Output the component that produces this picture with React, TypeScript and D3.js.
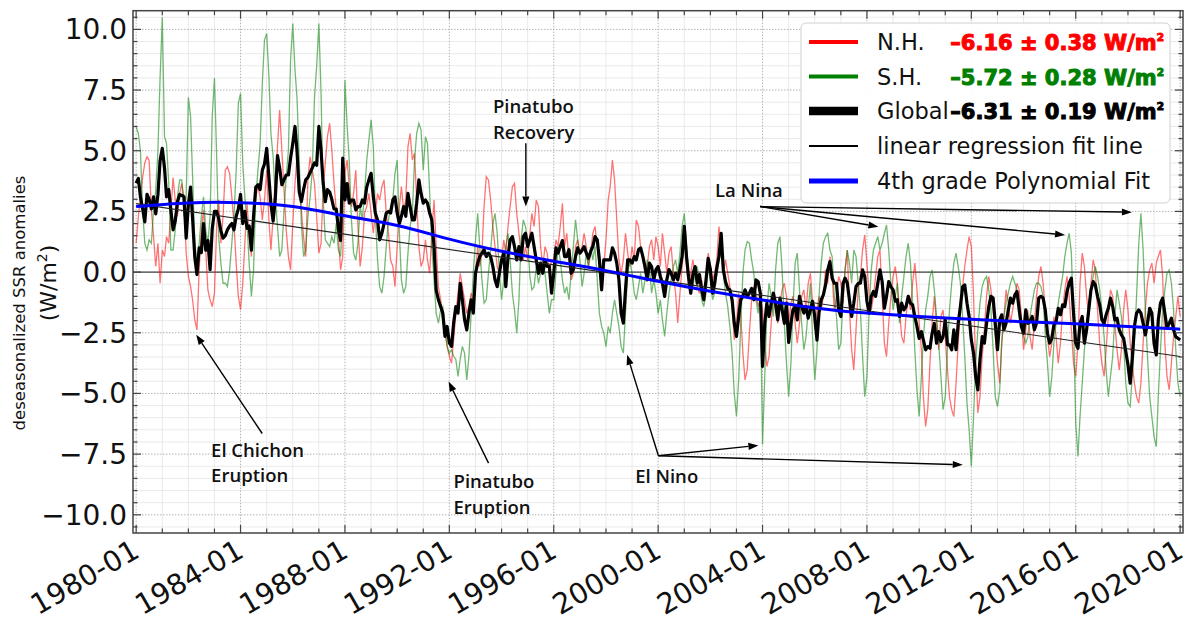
import { useEffect, useRef } from 'react';
import * as d3 from 'd3';

// monthly anomalies, 1980-01 .. 2020-01 (W/m2)
const NH = [
  1.19, 2.29, 3.1, 3.9, 4.5, 4.75, 4.6, 2.56, 1.46, 0.23, 1.19, -0.46,
  0.91, 0.64, 1.46, 1.19, 2.56, 3.9, 2.97, 2.29, 3.24, 3.65, 3.1, 0.78,
  -0.18, -0.6, -1.15, -1.97, -2.38, 0.09, 1.74, 2.56, 0.91, -0.73, -1.15, -1.42,
  -0.87, 1.88, 2.97, 1.19, 2.29, 4.2, 4.34, 4.07, 3.1, 2.0, 0.36, -1.0,
  -1.55, -0.46, 1.19, 2.83, 1.46, 0.64, 2.29, 3.1, 3.52, 3.1, 2.15, 2.97,
  4.2, 2.15, 0.91, 2.29, 3.9, 5.17, 6.68, 5.03, 3.38, 1.74, 0.64, 0.09,
  2.0, 3.65, 4.75, 3.65, 2.56, 1.46, 0.64, 3.9, 4.75, 4.2, 3.65, 2.29,
  0.78, 1.19, 3.38, 4.48, 5.58, 6.13, 5.03, 3.65, 2.56, 1.46, 0.09, 0.64,
  4.07, 4.62, 3.52, 2.7, 3.24, 4.2, 1.88, 0.23, 1.05, 2.42, 2.7, 3.24,
  2.42, 1.6, 2.42, 3.24, 2.97, 3.52, 3.8, 2.42, 1.6, 0.5, 0.23, -0.6,
  1.05, 2.7, 3.52, 2.56, 2.97, 5.17, 5.72, 4.62, 4.9, 2.97, 1.05, 0.23,
  0.5, 1.33, 0.5, -0.05, 1.6, 2.97, 1.05, -0.6, -1.14, -1.97, -2.52, -3.06,
  -3.47, -3.75, -2.79, -1.7, -0.87, -0.05, -0.6, -1.14, -1.7, -1.42, -0.87, -1.14,
  -0.05, 1.05, 0.23, 0.78, 2.7, 3.93, 3.8, 2.97, 1.88, 1.05, 0.23, -0.05,
  0.5, 1.33, 0.78, 1.88, 2.7, 3.52, 3.66, 2.42, 1.6, 0.78, 0.5, 1.05,
  0.5, 1.6, 2.42, 1.88, 2.97, 2.7, 1.05, 0.23, 1.05, 0.78, -0.05, 0.5,
  0.5, 1.33, 1.05, 1.88, 2.83, 1.05, 1.6, 0.5, -0.32, -0.05, 1.05, 1.33,
  0.78, 1.05, 1.6, 1.05, 0.23, 0.78, 1.6, 1.88, 1.05, 0.23, -0.6, 0.23,
  1.33, 2.97, 3.52, 4.62, 3.8, 2.15, 0.5, -0.05, 0.5, 1.6, 0.78, 0.23,
  1.05, 0.5, 2.15, 1.88, 1.05, 0.5, -0.05, 0.23, 1.05, 1.33, 0.5, 1.46,
  1.05, 0.23, 1.6, 0.78, -0.05, 0.78, 1.05, -0.05, -0.87, -2.1, -0.87, 0.23,
  1.33, 0.23, -0.6, -0.05, 0.5, -0.05, -0.6, -0.87, -0.32, -1.14, -0.18, 0.78,
  0.23, -0.32, -0.05, 0.5, 1.88, 1.05, -0.05, 0.5, -0.05, -0.6, -1.42, -2.79,
  -2.24, -0.87, -1.7, -3.34, -4.44, -4.03, -2.52, -1.14, -0.6, -0.87, -1.42, -1.14,
  -1.56, -2.93, -3.89, -3.48, -2.11, -1.0, -1.56, -2.11, -1.28, -0.73, -0.46, -1.0,
  -2.11, -1.28, -1.0, -2.11, -2.93, -2.11, -1.0, -0.73, -1.56, -0.46, -0.05, -1.28,
  -2.38, -1.56, -1.0, -1.56, -1.0, 0.09, -0.46, 0.64, -0.18, -1.56, -1.0, -0.18,
  -0.46, -1.28, 0.09, 0.91, -1.56, -3.2, -4.03, -2.38, -0.73, -0.18, 0.91, 1.53,
  0.37, -1.0, -1.56, -1.0, -0.18, 0.64, 0.91, -1.0, -2.93, -3.48, -2.11, -1.0,
  -0.18, 0.23, -0.46, -1.56, -2.66, -2.93, -1.83, -1.0, -1.56, -0.46, 0.37, -0.73,
  -2.11, -3.2, -5.13, -6.36, -5.67, -3.75, -2.11, -1.0, -2.11, -3.2, -1.83, -1.56,
  -2.66, -4.03, -5.13, -5.67, -5.95, -4.58, -2.93, -1.56, -0.6, 0.23, 0.91, 1.46,
  1.05, -1.0, -3.75, -5.8, -5.13, -3.48, -2.38, -1.0, -0.18, -0.73, -1.56, -2.66,
  -3.75, -4.58, -2.93, -1.83, -0.73, -1.28, -2.11, -1.56, -1.0, -0.46, -0.73, -1.83,
  -3.2, -2.38, -1.56, -2.66, -3.2, -2.11, -1.0, -0.18, 0.23, -0.46, -1.56, -2.66,
  -3.48, -2.93, -1.83, -2.66, -3.75, -2.93, -1.56, -0.73, -0.18, -1.0, -2.38, -3.75,
  -4.3, -2.93, -0.46, 0.78, 0.23, -1.0, -1.83, -0.46, 0.5, 0.09, -1.56, -2.93,
  -3.75, -4.3, -3.2, -1.83, -0.73, -1.0, -2.11, -3.2, -4.03, -3.2, -1.56, -0.73,
  -1.56, -2.93, -3.75, -4.58, -5.13, -5.4, -4.58, -2.93, -1.56, -0.46, 0.09, 0.37,
  -0.46, 0.37, 0.64, 0.91, -0.18, -2.93, -4.3, -4.85, -3.75, -2.66, -1.83, -1.0,
  -1.83,
];

const SH = [
  6.0, 5.7, 5.0, 2.56, 1.19, 0.91, 1.33, 1.19, 2.56, 3.38, 5.0, 8.0,
  10.5, 5.58, 5.3, 3.65, 0.91, 0.91, 1.74, 3.1, 3.8, 3.8, 2.29, 3.1,
  7.2, 6.4, 3.9, 1.19, 0.36, 1.19, 2.29, 3.1, 1.74, 1.19, 2.29, 6.4,
  8.0, 4.75, 1.46, 0.36, -0.46, -0.46, -0.6, 0.09, 1.19, 2.29, 4.2, 6.95,
  7.36, 4.48, 3.1, 2.0, 0.36, -1.0, 0.09, 3.1, 4.2, 5.3, 7.78, 9.56,
  9.83, 8.05, 5.72, 4.75, 3.1, 1.88, 0.64, 0.91, 2.56, 3.93, 5.03, 8.73,
  10.24, 8.32, 7.2, 4.62, 2.0, 0.64, 0.91, 2.29, 3.1, 4.2, 7.2, 8.46,
  10.24, 7.36, 3.1, 1.33, 1.19, 1.05, 1.46, 1.19, 2.0, 0.91, 0.64, 2.29,
  7.9, 6.0, 4.6, 2.15, 0.78, 0.5, 1.19, 2.7, 2.15, 3.24, 4.6, 5.44,
  6.27, 5.17, 2.42, 0.5, -0.6, -0.87, -0.18, 1.05, 2.15, 2.7, 2.97, 4.07,
  4.62, 1.6, -0.32, -0.87, -0.6, 0.78, 1.88, 2.42, 4.62, 5.72, 6.13, 5.85,
  4.2, 5.58, 5.3, 3.24, 1.05, -0.32, -1.7, -2.1, -1.56, -1.42, -2.24, -3.06,
  -3.34, -3.2, -3.47, -3.6, -4.3, -3.6, -3.06, -3.34, -4.44, -3.47, -1.7, -0.05,
  1.33, 2.42, 1.05, -0.32, -1.28, -1.14, -0.05, 0.91, 2.0, 2.42, 1.6, -0.05,
  -1.14, -0.32, 1.05, 1.6, 0.5, -0.87, -1.56, -2.52, -1.14, 1.33, 2.15, 1.88,
  1.33, -0.18, -0.73, -0.6, 0.23, -0.46, -0.05, 0.5, -0.05, -0.87, -1.7, -1.14,
  -1.14, -0.05, 1.05, 0.5, -0.32, -0.87, -0.6, -1.14, -0.05, 1.05, 2.15, 1.33,
  0.5, -0.6, -0.05, 0.78, 0.23, 1.05, 0.5, 1.05, -0.32, -1.7, -2.24, -2.52,
  -3.07, -2.24, -2.52, -1.7, -1.14, -1.7, -2.24, -3.07, -3.34, -1.7, -0.05, 0.5,
  -0.05, -0.87, -1.14, -0.6, -0.05, -0.87, -0.32, 0.5, 0.23, -0.87, -0.32, -0.87,
  -1.7, -1.14, -1.97, -2.65, -1.7, -0.87, -0.32, 0.23, 0.5, -0.05, 0.78, 1.88,
  2.42, 1.05, -0.05, -0.87, -0.6, -0.05, 0.23, -0.32, -1.14, -1.42, -0.87, 0.23,
  -0.32, -1.14, -0.87, -0.05, 0.5, 0.78, -0.05, -0.87, -1.42, -2.24, -3.34, -4.99,
  -5.95, -4.44, -2.24, -0.05, 0.91, 1.26, 1.19, 0.5, -0.05, -1.14, -1.7, -0.87,
  -7.1, -4.3, -1.56, -0.46, -1.0, -1.83, 0.09, 1.19, 1.46, 0.09, -2.11, -3.75,
  -5.13, -3.75, -1.56, 0.37, 0.78, -0.73, -2.11, -3.2, -2.66, -1.56, -0.46, -2.66,
  -4.44, -3.2, -1.0, 0.37, 1.19, 1.46, 1.6, 0.91, 0.64, -1.0, -1.83, -3.2,
  -2.93, -1.0, 0.09, 0.91, 0.37, -0.46, 0.91, 0.64, -0.46, -1.56, -3.48, -5.13,
  -4.3, -1.56, 0.09, 0.91, 1.19, 1.46, 0.91, 1.19, 1.6, 1.94, 0.91, -0.46,
  -1.56, -1.0, -0.46, -2.11, -1.0, -0.18, 0.64, 1.19, 0.37, -1.28, -3.2, -4.85,
  -5.95, -4.3, -2.66, -1.56, -1.0, -0.18, 0.09, -0.73, -1.83, -2.93, -4.3, -5.67,
  -5.13, -3.2, -1.56, -0.46, 0.37, 0.78, 0.23, -0.46, -1.83, -3.48, -5.4, -6.5,
  -8.0, -5.95, -3.75, -2.38, -1.28, -0.6, -0.32, -0.18, -0.73, -1.56, -3.2, -5.13,
  -5.54, -4.85, -2.93, -1.83, -1.28, -0.87, -0.46, -0.18, -0.46, -0.73, -1.28, -2.11,
  -2.66, -2.93, -2.66, -1.83, -1.28, -0.73, -0.46, -0.46, -0.6, -1.0, -2.66, -3.75,
  -5.13, -4.3, -2.93, -2.11, -1.28, -0.73, -0.18, 0.64, 1.19, 1.6, 0.78, -2.11,
  -6.23, -7.6, -5.95, -4.58, -3.2, -2.11, -1.28, -0.73, -0.18, 0.23, -0.18, -0.73,
  -1.56, -2.66, -4.03, -5.13, -4.3, -3.48, -1.83, -0.73, -1.28, -1.83, -2.93, -4.58,
  -5.4, -5.54, -4.3, -2.93, -1.0, 1.19, 2.42, 0.91, -1.56, -3.48, -5.13, -5.95,
  -6.77, -7.2, -5.13, -3.2, -1.56, -0.73, -0.05, 0.09, -0.46, -1.56, -3.2, -4.58,
  -5.13,
];

const GLOBAL = [
  3.66, 3.86, 3.1, 2.6, 2.07, 3.2, 3.0, 2.6, 3.1, 2.4, 3.2, 4.6,
  5.1, 4.3, 3.1, 3.4, 2.56, 1.74, 2.1, 2.9, 3.2, 3.16, 3.1, 1.4,
  2.8, 3.5, 2.2, 0.6, -0.1, 1.0, 0.8, 2.0, 0.9, 1.3, 0.1, 1.8,
  2.5, 2.5, 2.2, 1.7, 1.4, 1.5, 1.74, 1.9, 2.0, 1.74, 2.3, 2.6,
  3.2, 2.0, 2.5, 1.8, 1.9, 0.9, 2.3, 3.5, 3.6, 3.4, 4.2, 4.45,
  5.1, 3.9, 2.8, 2.1, 3.0, 4.8, 4.3, 3.6, 3.8, 4.0, 4.0, 4.7,
  5.3, 6.0, 5.0, 3.3, 2.9, 3.4, 3.8, 3.9, 4.1, 4.3, 4.5, 4.4,
  6.0, 5.0, 3.7, 2.9, 3.4, 3.3, 3.0, 2.6, 2.6, 1.8, 1.3, 4.7,
  2.97, 3.65, 2.84, 2.97, 2.97, 2.56, 2.7, 2.7, 2.97, 2.84, 3.5, 3.8,
  4.07, 3.11, 2.43, 2.15, 1.33, 1.6, 2.0, 2.43, 2.5, 2.43, 2.97, 3.1,
  2.43, 2.0, 2.3, 2.7, 2.3, 3.24, 2.7, 2.15, 2.15, 2.84, 3.8, 3.24,
  2.84, 2.97, 2.84, 2.43, 2.15, 1.05, -0.74, -1.14, -1.42, -1.69, -2.65, -2.24,
  -2.92, -3.06, -2.1, -1.42, -1.69, -0.46, -1.14, -1.96, -2.38, -1.69, -1.14, -1.69,
  -0.05, 0.37, 0.64, 0.78, 0.92, 0.64, 0.78, 0.64, 0.23, -0.32, -0.6, -0.05,
  0.5, 0.78, -0.6, 0.64, 1.33, 1.46, 1.05, 0.5, 1.05, 0.5, 1.46, 1.6,
  1.05, 1.33, 1.6, 1.05, 0.5, -0.05, 0.37, -0.05, 0.5, 0.23, 0.23, -0.87,
  -0.05, 1.0, 0.78, 1.05, 1.3, 0.64, 0.64, 0.92, -0.05, 0.1, 0.64, 1.0,
  0.78, 0.9, 1.05, 0.78, 0.57, 0.85, 1.05, 1.46, 1.33, 0.5, -0.73, 0.5,
  0.5, 0.5, 0.5, 1.0, 0.78, 0.37, -0.32, -1.69, -2.1, -0.73, 0.5, 0.5,
  0.37, 0.64, 0.5, 0.92, 1.0, 0.64, 0.23, -0.32, 0.37, 0.23, -0.32, 0.1,
  0.23, -0.18, -0.46, -1.0, -0.32, 0.1, -0.05, -0.32, -0.05, -0.32, 0.1, 0.64,
  1.88, 0.64, -0.18, -0.87, -0.1, 0.23, -0.46, -0.1, -0.73, -1.14, -0.32, 0.57,
  0.1, -0.87, -0.46, 0.17, 0.64, 1.6, 0.1, -0.4, -0.67, -0.73, -1.14, -2.1,
  -2.65, -1.83, -1.14, -1.0, -0.73, -1.0, -0.87, -0.67, -1.14, -0.32, -0.4, -0.87,
  -3.89, -2.11, -1.28, -1.83, -1.28, -0.87, -1.28, -1.97, -1.07, -1.56, -2.11, -1.28,
  -2.9, -2.11, -1.56, -1.42, -1.97, -1.0, -1.42, -1.69, -1.42, -1.9, -1.56, -1.2,
  -1.83, -2.8, -1.69, -1.14, -0.94, -0.53, 0.09, 0.43, -0.25, -0.46, -0.46, -1.56,
  -1.83, -0.46, -0.25, -0.46, -1.14, -1.83, -1.28, -0.6, -0.46, -0.46, 0.09, -0.18,
  -1.2, -1.69, -1.0, -0.8, -1.0, -0.46, 0.09, -0.39, -1.49, -1.0, -0.39, -0.6,
  -0.73, -1.2, -1.14, -1.83, -1.28, -1.56, -1.42, -1.0, -1.28, -1.35, -1.83, -2.24,
  -2.73, -2.45, -2.8, -3.2, -3.07, -3.14, -2.52, -2.11, -2.93, -2.45, -2.87, -2.66,
  -1.97, -3.0, -3.0, -3.2, -2.38, -3.2, -2.11, -1.42, -0.6, -0.53, -1.28, -1.83,
  -2.8, -3.34, -4.3, -4.85, -3.6, -2.66, -2.93, -2.11, -1.42, -1.0, -1.07, -2.11,
  -3.2, -1.97, -1.76, -2.38, -2.11, -1.56, -1.07, -1.28, -0.94, -0.8, -1.56, -2.24,
  -2.52, -1.56, -2.11, -2.04, -1.83, -2.38, -2.11, -1.07, -1.0, -1.07, -1.56, -2.52,
  -2.93, -2.73, -2.18, -2.04, -1.49, -1.76, -1.35, -1.42, -0.8, -0.46, -0.25, -1.69,
  -2.93, -3.14, -2.11, -1.83, -2.93, -2.38, -1.56, -0.73, -0.39, -0.53, -1.0, -1.35,
  -1.97, -2.11, -1.76, -1.49, -1.07, -1.42, -1.97, -1.9, -2.38, -2.59, -2.73, -3.27,
  -3.82, -4.58, -3.6, -2.24, -1.69, -1.56, -1.69, -2.11, -2.59, -2.11, -1.49, -1.69,
  -2.93, -3.41, -1.97, -1.28, -1.07, -1.69, -2.31, -2.11, -1.9, -2.38, -2.66, -2.73,
  -2.8,
];

// fits
const LINEAR_FIT_YEARS = [1980, 2020];
const LINEAR_FIT = [2.82, -3.48];
const POLY_YEARS = [1980, 1982, 1984, 1986, 1988, 1990, 1992, 1994, 1996, 1998, 2000,
  2002, 2004, 2006, 2008, 2010, 2012, 2014, 2016, 2018, 2020];
const POLY_FIT = [2.7, 2.85, 2.86, 2.7, 2.32, 1.92, 1.36, 0.86, 0.45, 0.06, -0.38,
  -0.79, -1.15, -1.48, -1.69, -1.83, -1.94, -2.05, -2.13, -2.24, -2.35];

const Y_TICKS = [-10, -7.5, -5, -2.5, 0, 2.5, 5, 7.5, 10];
const X_TICK_YEARS = [1980, 1984, 1988, 1992, 1996, 2000, 2004, 2008, 2012, 2016, 2020];
const X_TICK_LABELS = ['1980-01', '1984-01', '1988-01', '1992-01', '1996-01', '2000-01',
  '2004-01', '2008-01', '2012-01', '2016-01', '2020-01'];

const LEGEND_LABELS = ['N.H.', 'S.H.', 'Global', 'linear regression fit line', '4th grade Polynomial Fit'];
const LEGEND_VALUES = ['\u20136.16 \u00b1 0.38 W/m', '\u20135.72 \u00b1 0.28 W/m', '\u20136.31 \u00b1 0.19 W/m', '', ''];

// annotation text / arrow anchors in (decimal year, W/m2)
const ANNOTATIONS = [
  { lines: ['El Chichon', 'Eruption'], text: [1982.87, -7.61], tail: [1984.83, -6.65], tips: [[1982.3, -2.58]] },
  { lines: ['Pinatubo', 'Eruption'], text: [1992.16, -8.9], tail: [1993.5, -7.87], tips: [[1991.97, -4.51]] },
  { lines: ['Pinatubo', 'Recovery'], text: [1993.67, 6.54], tail: [1994.93, 5.31], tips: [[1994.93, 2.7]] },
  { lines: ['El Nino'], text: [1999.12, -8.69], tail: [2000.01, -7.57], tips: [[1998.81, -3.41], [2003.84, -7.14], [2011.67, -7.94]] },
  { lines: ['La Nina'], text: [2002.18, 3.11], tail: [2003.91, 2.7], tips: [[2008.44, 1.87], [2015.59, 1.53], [2018.15, 2.47]] },
];

const yearToDate = (yr: number) =>
  new Date(Date.UTC(Math.floor(yr), 0, 1) + (yr - Math.floor(yr)) * 365.25 * 864e5);

export default function App() {
  const svgRef = useRef<SVGSVGElement>(null);

  useEffect(() => {
    if (!svgRef.current) return;
    const svg = d3.select(svgRef.current);
    svg.selectAll('*').remove();

    const width = 1194;
    const height = 628;
    const L = 133, R = 1183, T = 10.7, B = 533;
    const font = 'DejaVu Sans, sans-serif';

    const x = d3.scaleUtc()
      .domain([new Date(Date.UTC(1979, 10, 18)), new Date(Date.UTC(2020, 1, 10))])
      .range([L, R]);
    const y = d3.scaleLinear().domain([-10.75, 10.77]).range([B, T]);

    const months = d3.range(GLOBAL.length).map(i => new Date(Date.UTC(1980, i, 1)));

    svg.append('rect').attr('width', width).attr('height', height).attr('fill', 'white');

    svg.append('defs').append('clipPath').attr('id', 'plot-clip')
      .append('rect').attr('x', L).attr('y', T).attr('width', R - L).attr('height', B - T);

    // grid
    const grid = svg.append('g');
    const minorY = d3.range(-10.5, 10.6, 0.5).filter(v => Math.abs(v / 2.5 - Math.round(v / 2.5)) > 1e-6);
    const years = d3.range(1980, 2021);
    grid.selectAll('.gmy').data(minorY).enter().append('line')
      .attr('x1', L).attr('x2', R).attr('y1', d => y(d)).attr('y2', d => y(d))
      .attr('stroke', '#e4e4e4').attr('stroke-width', 0.8);
    grid.selectAll('.gmx').data(years.filter(v => v % 4 !== 0)).enter().append('line')
      .attr('x1', d => x(yearToDate(d))).attr('x2', d => x(yearToDate(d)))
      .attr('y1', T).attr('y2', B)
      .attr('stroke', '#e4e4e4').attr('stroke-width', 0.8);
    grid.selectAll('.gMy').data(Y_TICKS).enter().append('line')
      .attr('x1', L).attr('x2', R).attr('y1', d => y(d)).attr('y2', d => y(d))
      .attr('stroke', '#b4b4b4').attr('stroke-width', 1).attr('stroke-dasharray', '1.5,1.5');
    grid.selectAll('.gMx').data(X_TICK_YEARS).enter().append('line')
      .attr('x1', d => x(yearToDate(d))).attr('x2', d => x(yearToDate(d)))
      .attr('y1', T).attr('y2', B)
      .attr('stroke', '#b4b4b4').attr('stroke-width', 1).attr('stroke-dasharray', '1.5,1.5');

    // zero line
    svg.append('line').attr('x1', L).attr('x2', R).attr('y1', y(0)).attr('y2', y(0))
      .attr('stroke', '#444').attr('stroke-width', 1.2);

    const plot = svg.append('g').attr('clip-path', 'url(#plot-clip)');
    const line = d3.line<number>().x((_, i) => x(months[i])).y(d => y(d));

    plot.append('path').attr('d', line(NH)).attr('fill', 'none')
      .attr('stroke', 'rgba(255,0,0,0.55)').attr('stroke-width', 1.3);
    plot.append('path').attr('d', line(SH)).attr('fill', 'none')
      .attr('stroke', 'rgba(0,128,0,0.55)').attr('stroke-width', 1.3);
    plot.append('path').attr('d', line(GLOBAL)).attr('fill', 'none')
      .attr('stroke', 'black').attr('stroke-width', 3.2).attr('stroke-linejoin', 'round');

    const fitLine = d3.line<number>().x((_, i) => x(yearToDate(LINEAR_FIT_YEARS[i]))).y(d => y(d));
    plot.append('path').attr('d', fitLine(LINEAR_FIT)).attr('fill', 'none')
      .attr('stroke', '#222').attr('stroke-width', 1.1);

    const polyLine = d3.line<number>().x((_, i) => x(yearToDate(POLY_YEARS[i]))).y(d => y(d))
      .curve(d3.curveNatural);
    plot.append('path').attr('d', polyLine(POLY_FIT)).attr('fill', 'none')
      .attr('stroke', '#0000ff').attr('stroke-width', 3);

    // annotations
    const ann = svg.append('g');
    const drawArrow = (x1: number, y1: number, x2: number, y2: number) => {
      const a = Math.atan2(y2 - y1, x2 - x1);
      const hl = 10, hw = 3.6;
      const bx = x2 - hl * Math.cos(a), by = y2 - hl * Math.sin(a);
      ann.append('line').attr('x1', x1).attr('y1', y1).attr('x2', bx).attr('y2', by)
        .attr('stroke', 'black').attr('stroke-width', 1.4);
      ann.append('path')
        .attr('d', `M${x2},${y2}L${bx + hw * Math.sin(a)},${by - hw * Math.cos(a)}L${bx - hw * Math.sin(a)},${by + hw * Math.cos(a)}Z`)
        .attr('fill', 'black');
    };
    ANNOTATIONS.forEach(a => {
      const tx = x(yearToDate(a.tail[0])), ty = y(a.tail[1]);
      a.tips.forEach(t => drawArrow(tx, ty, x(yearToDate(t[0])), y(t[1])));
      a.lines.forEach((s, i) => {
        ann.append('text')
          .attr('x', x(yearToDate(a.text[0])))
          .attr('y', y(a.text[1]) + i * 25.5)
          .attr('font-family', 'Open Sans, Noto Sans, sans-serif')
          .attr('font-weight', 600)
          .attr('font-size', 18.5)
          .attr('fill', '#111')
          .text(s);
      });
    });

    // frame and ticks
    const axes = svg.append('g').attr('stroke', '#444');
    axes.append('rect').attr('x', L).attr('y', T).attr('width', R - L).attr('height', B - T)
      .attr('fill', 'none').attr('stroke-width', 1.5);
    const allMinorY = d3.range(-10.5, 10.6, 0.5);
    allMinorY.forEach(v => {
      const major = Y_TICKS.some(t => Math.abs(t - v) < 1e-6);
      const len = major ? 8 : 4.5;
      axes.append('line').attr('x1', L).attr('x2', L + len).attr('y1', y(v)).attr('y2', y(v)).attr('stroke-width', 1.2);
      axes.append('line').attr('x1', R).attr('x2', R - len).attr('y1', y(v)).attr('y2', y(v)).attr('stroke-width', 1.2);
    });
    years.forEach(v => {
      const major = v % 4 === 0;
      const len = major ? 8 : 4.5;
      const px = x(yearToDate(v));
      axes.append('line').attr('x1', px).attr('x2', px).attr('y1', B).attr('y2', B - len).attr('stroke-width', 1.2);
      axes.append('line').attr('x1', px).attr('x2', px).attr('y1', T).attr('y2', T + len).attr('stroke-width', 1.2);
    });

    // tick labels
    svg.selectAll('.ylab').data(Y_TICKS).enter().append('text')
      .attr('x', 127).attr('y', d => y(d) + 10)
      .attr('text-anchor', 'end')
      .attr('font-family', font).attr('font-size', 28).attr('fill', '#111')
      .text(d => d.toFixed(1).replace('-', '\u2212'));
    svg.selectAll('.xlab').data(X_TICK_YEARS).enter().append('text')
      .attr('transform', d => `translate(${x(yearToDate(d)) + 5},556) rotate(-30)`)
      .attr('text-anchor', 'end')
      .attr('font-family', font).attr('font-size', 28.5).attr('fill', '#111')
      .text((_, i) => X_TICK_LABELS[i]);

    // y label
    svg.append('text')
      .attr('transform', 'translate(25,303) rotate(-90)')
      .attr('text-anchor', 'middle')
      .attr('font-family', font).attr('font-size', 16.5).attr('fill', '#111')
      .text('deseasonalized SSR anomalies');
    const yl2 = svg.append('text')
      .attr('transform', 'translate(56,283) rotate(-90)')
      .attr('text-anchor', 'middle')
      .attr('font-family', font).attr('font-size', 22).attr('fill', '#111');
    yl2.append('tspan').text('(W/m');
    yl2.append('tspan').attr('dy', -9).attr('font-size', 14).text('2');
    yl2.append('tspan').attr('dy', 9).text(')');

    // legend
    const lg = svg.append('g');
    lg.append('rect').attr('x', 801).attr('y', 23).attr('width', 369).attr('height', 180)
      .attr('rx', 5).attr('fill', 'white').attr('fill-opacity', 0.92)
      .attr('stroke', '#d0d0d0').attr('stroke-width', 1);
    const handleColors = ['red', 'green', 'black', 'black', '#0000ff'];
    const handleWidths = [3.8, 3.8, 8.5, 2.2, 5];
    const valueSizes = [21, 21, 21, 0, 0];
    const rowY = [50, 84.5, 119, 154, 189];
    LEGEND_LABELS.forEach((label, i) => {
      lg.append('line').attr('x1', 809).attr('x2', 858)
        .attr('y1', rowY[i] - 8).attr('y2', rowY[i] - 8)
        .attr('stroke', handleColors[i]).attr('stroke-width', handleWidths[i]);
      lg.append('text').attr('x', 877).attr('y', rowY[i])
        .attr('font-family', font).attr('font-size', 22.5).attr('fill', '#111')
        .text(label);
      if (LEGEND_VALUES[i]) {
        const vt = lg.append('text').attr('x', 1164).attr('y', rowY[i])
          .attr('text-anchor', 'end')
          .attr('font-family', font).attr('font-weight', 'bold')
          .attr('font-size', valueSizes[i])
          .attr('fill', handleColors[i]).attr('stroke', handleColors[i]).attr('stroke-width', 1);
        vt.append('tspan').text(LEGEND_VALUES[i]);
        vt.append('tspan').attr('dy', -9).attr('font-size', valueSizes[i] * 0.5).text('2');
      }
    });
  }, []);

  return (
    <svg
      ref={svgRef}
      width={1194}
      height={628}
      style={{ position: 'absolute', left: 0, top: 0, background: 'white' }}
    />
  );
}
